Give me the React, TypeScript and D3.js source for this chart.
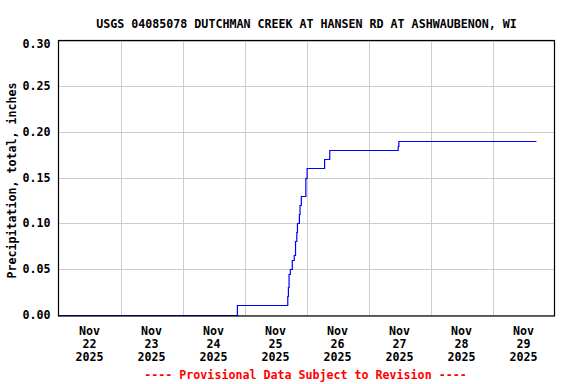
import React from "react";
import * as d3 from "d3";

const title = "USGS 04085078 DUTCHMAN CREEK AT HANSEN RD AT ASHWAUBENON, WI";
const yLabel = "Precipitation, total, inches";
const footer = "---- Provisional Data Subject to Revision ----";

const domainStart = "2025-11-22 00:00";
const domainEnd = "2025-11-30 00:00";

const times = [
  "2025-11-22 00:00",
  "2025-11-24 21:15",
  "2025-11-25 16:45",
  "2025-11-25 17:00",
  "2025-11-25 17:15",
  "2025-11-25 17:45",
  "2025-11-25 18:30",
  "2025-11-25 19:15",
  "2025-11-25 19:45",
  "2025-11-25 20:15",
  "2025-11-25 20:30",
  "2025-11-25 21:15",
  "2025-11-25 21:30",
  "2025-11-25 22:00",
  "2025-11-25 23:45",
  "2025-11-26 00:15",
  "2025-11-26 07:00",
  "2025-11-26 09:00",
  "2025-11-27 11:30",
  "2025-11-27 11:45",
  "2025-11-29 17:00",
];
const values = [
  0.0, 0.01, 0.02, 0.03, 0.044, 0.05, 0.06, 0.065, 0.08, 0.09, 0.1, 0.11,
  0.12, 0.13, 0.15, 0.16, 0.17, 0.18, 0.185, 0.19, 0.19,
];

const yTicks = [0.0, 0.05, 0.1, 0.15, 0.2, 0.25, 0.3];
const dayTicks = [
  "2025-11-22", "2025-11-23", "2025-11-24", "2025-11-25",
  "2025-11-26", "2025-11-27", "2025-11-28", "2025-11-29",
];
const monthLabel = "Nov";

const W = 576;
const H = 384;
const left = 58.5;
const right = 554.5;
const top = 40.5;
const bottom = 316;
const yZero = 314.5;

const FONT = "'DejaVu Sans Mono', monospace";
const FS = 11.65;

export default function App() {
  const parse = d3.timeParse("%Y-%m-%d %H:%M");
  const parseDay = d3.timeParse("%Y-%m-%d");
  const x = d3
    .scaleTime()
    .domain([parse(domainStart)!, parse(domainEnd)!])
    .range([left, right]);
  const y = d3.scaleLinear().domain([0, 0.3]).range([yZero, top]);

  const pts: [Date, number][] = times.map((t, i) => [parse(t)!, values[i]]);
  const line = d3
    .line<[Date, number]>()
    .x((d) => x(d[0]))
    .y((d) => Math.round(y(d[1])) + 0.5)
    .curve(d3.curveStepAfter);

  const days = dayTicks.map((d) => parseDay(d)!);
  const gridDays = days.slice(1);

  return (
    <svg
      width={W}
      height={H}
      style={{ position: "absolute", left: 0, top: 0, background: "#fff" }}
      fontFamily={FONT}
      fontWeight="bold"
    >
      <rect x={0} y={0} width={W} height={H} fill="#fff" />
      <text x={306.5} y={27.5} fontSize={FS} textAnchor="middle" fill="#000">
        {title}
      </text>
      {yTicks.map((t) => (
        <line
          key={"hg" + t}
          x1={left}
          x2={right}
          y1={Math.round(y(t)) + 0.5}
          y2={Math.round(y(t)) + 0.5}
          stroke="#cccccc"
          strokeWidth={1}
        />
      ))}
      {gridDays.map((d, i) => (
        <line
          key={"vg" + i}
          x1={Math.round(x(d)) + 0.5}
          x2={Math.round(x(d)) + 0.5}
          y1={top}
          y2={bottom}
          stroke="#cccccc"
          strokeWidth={1}
        />
      ))}
      <path d={line(pts) || ""} fill="none" stroke="#0000ff" strokeWidth={1.2} />
      <rect
        x={left}
        y={top}
        width={right - left}
        height={bottom - top}
        fill="none"
        stroke="#000"
        strokeWidth={1.2}
      />
      {yTicks.map((t, i) => (
        <text
          key={"yl" + t}
          x={50.5}
          y={y(t) + (i === yTicks.length - 1 ? 3 : 0)}
          dy="0.36em"
          fontSize={FS}
          textAnchor="end"
          fill="#000"
        >
          {t.toFixed(2)}
        </text>
      ))}
      {days.map((d, i) => {
        const cx = x(d3.timeHour.offset(d, 12));
        return (
          <text key={"xl" + i} fontSize={FS} textAnchor="middle" fill="#000">
            <tspan x={cx} y={334.5}>{monthLabel}</tspan>
            <tspan x={cx} y={347.5}>{d3.timeFormat("%d")(d)}</tspan>
            <tspan x={cx} y={360.5}>{d3.timeFormat("%Y")(d)}</tspan>
          </text>
        );
      })}
      <text
        transform={`translate(15.5, 180.5) rotate(-90)`}
        fontSize={FS}
        textAnchor="middle"
        fill="#000"
      >
        {yLabel}
      </text>
      <text x={305.5} y={379} fontSize={FS} textAnchor="middle" fill="#ff0000">
        {footer}
      </text>
    </svg>
  );
}
